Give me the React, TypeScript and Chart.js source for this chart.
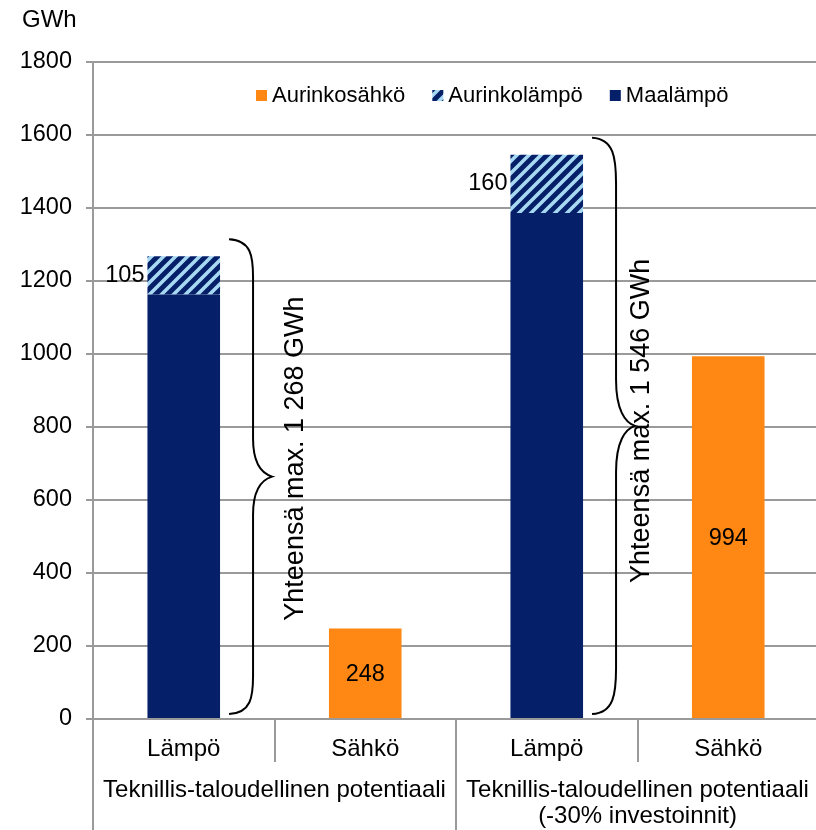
import React, { useEffect, useRef } from "react";
import { Chart, registerables } from "chart.js";

Chart.register(...registerables);

// ---- data ----
const categories = ["Lämpö", "Sähkö", "Lämpö", "Sähkö"];
const groupLabels = [
  ["Teknillis-taloudellinen potentiaali"],
  ["Teknillis-taloudellinen potentiaali", "(-30% investoinnit)"],
];
const maalampo = [1163, null, 1386, null];
const aurinkolampo = [105, null, 160, null];
const aurinkosahko = [null, 248, null, 994];
const totalTexts = ["Yhteensä max. 1 268 GWh", null, "Yhteensä max. 1 546 GWh", null];
const yMin = 0;
const yMax = 1800;
const yStep = 200;
const unitLabel = "GWh";
const seriesNames = ["Maalämpö", "Aurinkolämpö", "Aurinkosähkö"];

// ---- styles ----
const FONT = "'Liberation Sans', Arial, Helvetica, sans-serif";
const NAVY = "#051f69";
const STRIPE = "#a8d9f2";
const ORANGE = "#ff8713";
const GRID = "#9a9a9a";

function makeHatch(): CanvasPattern | string {
  const s = 12;
  const c = document.createElement("canvas");
  c.width = s;
  c.height = s;
  const g = c.getContext("2d");
  if (!g) return NAVY;
  g.fillStyle = NAVY;
  g.fillRect(0, 0, s, s);
  g.strokeStyle = STRIPE;
  g.lineWidth = 3.6;
  g.beginPath();
  for (const k of [0, s, 2 * s]) {
    g.moveTo(k - s - 2, s + 2);
    g.lineTo(k + 2, -2);
  }
  g.stroke();
  return g.createPattern(c, "repeat") || NAVY;
}

function drawBrace(
  ctx: CanvasRenderingContext2D,
  xEnd: number,
  xv: number,
  xTip: number,
  yTop: number,
  yBot: number
) {
  const yMid = (yTop + yBot) / 2;
  const r = (yBot - yTop) * 0.08;
  ctx.beginPath();
  ctx.moveTo(xEnd, yTop);
  ctx.bezierCurveTo(xv - 2, yTop + 1, xv, yTop + r * 0.45, xv, yTop + r);
  ctx.lineTo(xv, yMid - r);
  ctx.bezierCurveTo(xv, yMid - r * 0.35, xTip - 10, yMid - 3, xTip, yMid);
  ctx.bezierCurveTo(xTip - 10, yMid + 3, xv, yMid + r * 0.35, xv, yMid + r);
  ctx.lineTo(xv, yBot - r);
  ctx.bezierCurveTo(xv, yBot - r * 0.45, xv - 2, yBot - 1, xEnd, yBot);
  ctx.stroke();
}

export default function App() {
  const canvasRef = useRef<HTMLCanvasElement | null>(null);

  useEffect(() => {
    const canvas = canvasRef.current;
    if (!canvas) return;
    const hatch = makeHatch();
    const fills = [NAVY, hatch, ORANGE];
    const textOffsetX = [75, 0, 58, 0];
    const textOffsetY = [-18, 0, -5, 0];

    const overlay = {
      id: "overlay",
      afterDraw(chart: any) {
        const ctx: CanvasRenderingContext2D = chart.ctx;
        const area = chart.chartArea;
        const xs = chart.scales.x;
        const ys = chart.scales.y;
        ctx.save();
        ctx.fillStyle = "#000";

        // unit label
        ctx.font = `24px ${FONT}`;
        ctx.textAlign = "left";
        ctx.textBaseline = "middle";
        ctx.fillText(unitLabel, 22, 20);

        // legend
        ctx.font = `22px ${FONT}`;
        let lx = 256;
        const ly = 95.5;
        [2, 1, 0].forEach((di) => {
          ctx.fillStyle = fills[di] as any;
          ctx.fillRect(lx, ly - 5.5, 11, 11);
          lx += 16;
          ctx.fillStyle = "#000";
          ctx.fillText(seriesNames[di], lx, ly);
          lx += ctx.measureText(seriesNames[di]).width + 27;
        });

        // value labels
        ctx.font = `23.5px ${FONT}`;
        const hatchMeta = chart.getDatasetMeta(1);
        aurinkolampo.forEach((v, i) => {
          if (v == null) return;
          const el = hatchMeta.data[i];
          ctx.textAlign = "right";
          ctx.fillText(String(v), el.x - el.width / 2 - 3, (el.y + el.base) / 2);
        });
        const orangeMeta = chart.getDatasetMeta(2);
        aurinkosahko.forEach((v, i) => {
          if (v == null) return;
          const el = orangeMeta.data[i];
          ctx.textAlign = "center";
          ctx.fillText(String(v), el.x, (el.y + el.base) / 2 + 1);
        });

        // braces with totals
        ctx.strokeStyle = "#000";
        ctx.lineWidth = 2;
        totalTexts.forEach((t, i) => {
          if (!t) return;
          const total = (maalampo[i] || 0) + (aurinkolampo[i] || 0);
          const el = hatchMeta.data[i];
          const right = el.x + el.width / 2;
          const yTop = ys.getPixelForValue(total) - 17;
          const yBot = ys.getPixelForValue(0) - 5;
          drawBrace(ctx, right + 9, right + 33, right + 52, yTop, yBot);
          ctx.save();
          ctx.translate(right + textOffsetX[i], (yTop + yBot) / 2 + textOffsetY[i]);
          ctx.rotate(-Math.PI / 2);
          ctx.font = `27px ${FONT}`;
          ctx.textAlign = "center";
          ctx.textBaseline = "middle";
          ctx.fillText(t, 0, 0);
          ctx.restore();
        });

        // multi-level category axis
        const cw = (area.right - area.left) / categories.length;
        const y0 = area.bottom;
        ctx.strokeStyle = GRID;
        ctx.lineWidth = 2;
        ctx.beginPath();
        for (let k = 0; k <= categories.length; k++) {
          const x = Math.round(area.left + k * cw);
          const long = k % 2 === 0;
          ctx.moveTo(x, y0);
          ctx.lineTo(x, long ? chart.height : y0 + 43);
        }
        ctx.stroke();

        ctx.fillStyle = "#000";
        ctx.font = `24px ${FONT}`;
        ctx.textAlign = "center";
        ctx.textBaseline = "middle";
        categories.forEach((c, i) => {
          ctx.fillText(c, xs.getPixelForValue(i), y0 + 30);
        });
        groupLabels.forEach((lines, g) => {
          const cx = (xs.getPixelForValue(2 * g) + xs.getPixelForValue(2 * g + 1)) / 2;
          lines.forEach((ln, j) => {
            ctx.fillText(ln, cx, y0 + 71 + j * 26);
          });
        });
        ctx.restore();
      },
    };

    const chart = new Chart(canvas, {
      type: "bar",
      data: {
        labels: categories,
        datasets: [
          { label: seriesNames[0], data: maalampo as any, backgroundColor: NAVY, stack: "s" },
          { label: seriesNames[1], data: aurinkolampo as any, backgroundColor: hatch as any, stack: "s" },
          { label: seriesNames[2], data: aurinkosahko as any, backgroundColor: ORANGE, stack: "s" },
        ],
      },
      options: {
        responsive: false,
        animation: false,
        devicePixelRatio: 1,
        layout: { padding: { top: 62, right: 0, left: 0, bottom: 0 } },
        datasets: { bar: { categoryPercentage: 1, barPercentage: 0.4 } },
        plugins: { legend: { display: false }, tooltip: { enabled: false } },
        scales: {
          x: {
            stacked: true,
            grid: { display: false, drawTicks: false },
            border: { color: GRID, width: 2 },
            ticks: { display: false },
            afterFit: (s: any) => {
              s.height = 111;
            },
          },
          y: {
            stacked: true,
            min: yMin,
            max: yMax,
            ticks: {
              stepSize: yStep,
              color: "#000",
              padding: 14,
              font: { family: FONT, size: 23.5 },
              callback: (v: any) => String(v),
            },
            grid: { color: GRID, lineWidth: 2, tickLength: 7 },
            border: { color: GRID, width: 2 },
            afterFit: (s: any) => {
              s.width = 93;
            },
          },
        },
      },
      plugins: [overlay],
    });
    return () => chart.destroy();
  }, []);

  return (
    <div style={{ position: "absolute", left: 0, top: 0, width: 816, height: 830, overflow: "hidden", background: "#fff" }}>
      <canvas ref={canvasRef} width={819} height={830} style={{ display: "block" }} />
    </div>
  );
}
